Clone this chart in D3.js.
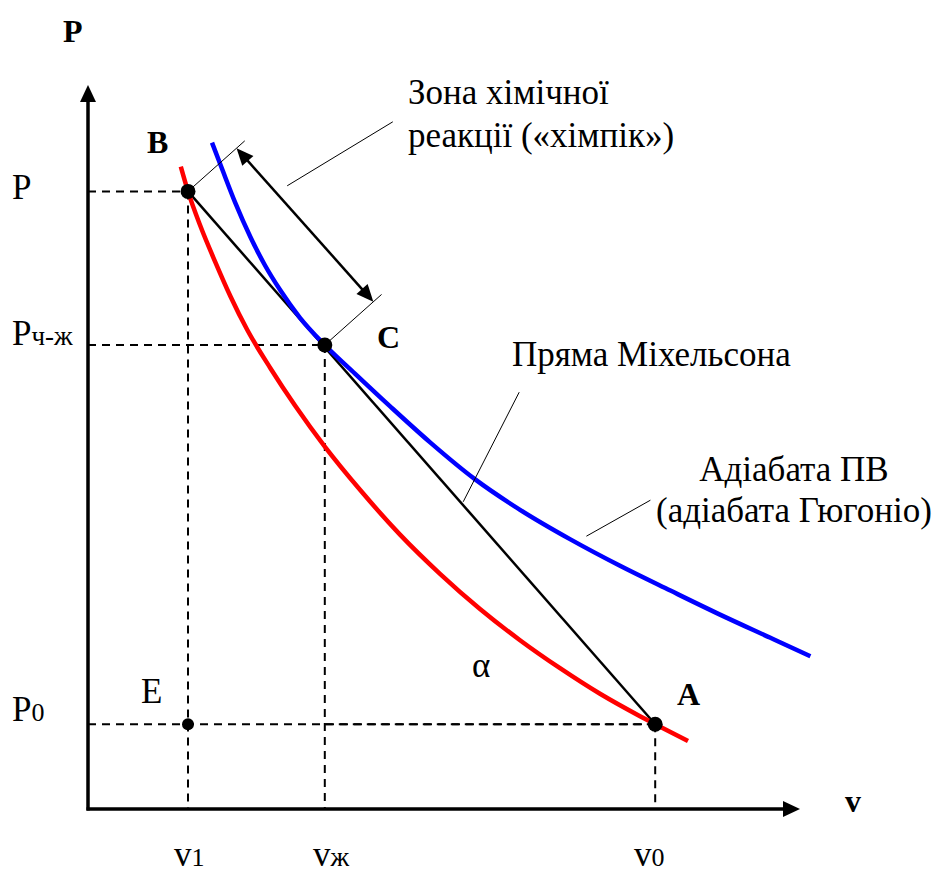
<!DOCTYPE html>
<html>
<head>
<meta charset="utf-8">
<script src="https://cdn.jsdelivr.net/npm/d3@7"></script>
<style>
  body { margin: 0; background: #fff; }
  text { font-family: "Liberation Serif", "Times New Roman", serif; fill: #000; }
</style>
</head>
<body>
<div id="chart"></div>
<script>
//////////////// data (v, P in arbitrary units) ////////////////
// red curve (initial-state adiabat)
const redV = [1.16, 1.25, 1.40, 1.59, 1.78, 1.99, 2.28, 2.59, 2.96, 3.40, 3.90, 4.40, 4.90, 5.40, 5.90, 6.40, 6.90, 7.09, 7.50];
const redP = [8.03, 7.72, 7.30, 6.84, 6.41, 5.99, 5.51, 5.04, 4.53, 3.99, 3.43, 2.94, 2.50, 2.11, 1.76, 1.44, 1.16, 1.06, 0.85];
// blue curve (Hugoniot of detonation products)
const blueV = [1.55, 1.68, 1.84, 2.03, 2.21, 2.40, 2.65, 2.96, 3.34, 3.78, 4.28, 4.84, 5.40, 6.03, 6.65, 7.28, 7.90, 8.53, 9.03];
const blueP = [8.33, 7.99, 7.58, 7.15, 6.80, 6.49, 6.14, 5.80, 5.44, 5.03, 4.58, 4.12, 3.74, 3.37, 3.04, 2.73, 2.43, 2.14, 1.91];
// key points
const pointNames = ["B", "C", "A"];
const pointV = [1.25, 2.96, 7.09];
const pointP = [7.72, 5.80, 1.06];
// point E = (v1, P0)
const eV = 1.25, eP = 1.06;
// leader lines for the notes [v1, P1, v2, P2]
const leaderZone = [2.49, 7.79, 3.81, 8.59];
const leaderMich = [4.69, 3.84, 5.39, 5.21];
const leaderAdia = [6.23, 3.41, 7.03, 3.86];

//////////////// setup ////////////////
const width = 949, height = 874;
let svg = d3.select("#chart")
            .append("svg")
            .attr("width", width)
            .attr("height", height);

const x = d3.scaleLinear().domain([0, 8.9]).range([88, 800]);
const y = d3.scaleLinear().domain([0, 9.05]).range([809, 85]);

// filled arrow head with its tip at (x2,y2)
function arrowHead(x1, y1, x2, y2, len, wid) {
  let dx = x2 - x1, dy = y2 - y1, d = Math.hypot(dx, dy);
  let ux = dx / d, uy = dy / d;
  let bx = x2 - ux * len, by = y2 - uy * len;
  return `M${x2},${y2}L${bx - uy * wid / 2},${by + ux * wid / 2}L${bx + uy * wid / 2},${by - ux * wid / 2}Z`;
}

//////////////// dashed guides ////////////////
let guides = svg.append("g")
                .attr("stroke", "#000")
                .attr("stroke-width", 2)
                .attr("stroke-dasharray", "8,6");
pointNames.forEach(function(n, i) {
  guides.append("line")
        .attr("x1", x(0)).attr("y1", y(pointP[i]))
        .attr("x2", x(pointV[i])).attr("y2", y(pointP[i]));
  guides.append("line")
        .attr("x1", x(pointV[i])).attr("y1", y(pointP[i]))
        .attr("x2", x(pointV[i])).attr("y2", y(0));
});
guides.append("line")
      .attr("x1", x(pointV[1])).attr("y1", y(eP))
      .attr("x2", x(pointV[2])).attr("y2", y(eP));

//////////////// axes ////////////////
svg.append("line")
   .attr("x1", x(0)).attr("y1", y(0) + 1.5)
   .attr("x2", x(0)).attr("y2", y(9.05) + 14)
   .attr("stroke", "#000").attr("stroke-width", 3.5);
svg.append("path")
   .attr("d", arrowHead(x(0), y(0), x(0), y(9.05), 17, 16));
svg.append("line")
   .attr("x1", x(0) - 1.5).attr("y1", y(0))
   .attr("x2", x(8.9) - 14).attr("y2", y(0))
   .attr("stroke", "#000").attr("stroke-width", 3.5);
svg.append("path")
   .attr("d", arrowHead(x(0), y(0), x(8.9), y(0), 17, 16));

//////////////// Michelson line B-A ////////////////
svg.append("line")
   .attr("x1", x(pointV[0])).attr("y1", y(pointP[0]))
   .attr("x2", x(pointV[2])).attr("y2", y(pointP[2]))
   .attr("stroke", "#000").attr("stroke-width", 2.5);

//////////////// curves ////////////////
let line = d3.line()
             .x(function(d) { return x(d[0]); })
             .y(function(d) { return y(d[1]); })
             .curve(d3.curveMonotoneX);

svg.append("path")
   .datum(d3.zip(redV, redP))
   .attr("d", line)
   .attr("fill", "none")
   .attr("stroke", "#ff0000")
   .attr("stroke-width", 4.5);
svg.append("path")
   .datum(d3.zip(blueV, blueP))
   .attr("d", line)
   .attr("fill", "none")
   .attr("stroke", "#0000ff")
   .attr("stroke-width", 4.5);

//////////////// reaction zone (double arrow B..C offset) ////////////////
let bx = x(pointV[0]), by = y(pointP[0]), cx = x(pointV[1]), cy = y(pointP[1]);
let dl = Math.hypot(cx - bx, cy - by);
let nx = (cy - by) / dl, ny = -(cx - bx) / dl;   // unit normal (up-right side)
let off = 65, ext = 76;
svg.append("line")
   .attr("x1", bx).attr("y1", by).attr("x2", bx + nx * ext).attr("y2", by + ny * ext)
   .attr("stroke", "#000").attr("stroke-width", 1);
svg.append("line")
   .attr("x1", cx).attr("y1", cy).attr("x2", cx + nx * ext).attr("y2", cy + ny * ext)
   .attr("stroke", "#000").attr("stroke-width", 1);
let a1x = bx + nx * off, a1y = by + ny * off, a2x = cx + nx * off, a2y = cy + ny * off;
let ux = (a2x - a1x) / dl, uy = (a2y - a1y) / dl;
svg.append("line")
   .attr("x1", a1x + ux * 14).attr("y1", a1y + uy * 14)
   .attr("x2", a2x - ux * 14).attr("y2", a2y - uy * 14)
   .attr("stroke", "#000").attr("stroke-width", 2.5);
svg.append("path").attr("d", arrowHead(a2x, a2y, a1x, a1y, 17, 15));
svg.append("path").attr("d", arrowHead(a1x, a1y, a2x, a2y, 17, 15));

//////////////// leader lines ////////////////
[leaderZone, leaderMich, leaderAdia].forEach(function(l) {
  svg.append("line")
     .attr("x1", x(l[0])).attr("y1", y(l[1]))
     .attr("x2", x(l[2])).attr("y2", y(l[3]))
     .attr("stroke", "#000").attr("stroke-width", 1);
});

//////////////// dots ////////////////
svg.selectAll("circle.pt")
   .data(pointNames)
   .enter()
   .append("circle")
   .attr("class", "pt")
   .attr("cx", function(d, i) { return x(pointV[i]); })
   .attr("cy", function(d, i) { return y(pointP[i]); })
   .attr("r", 7.5);
svg.append("circle")
   .attr("cx", x(eV)).attr("cy", y(eP))
   .attr("r", 6);

//////////////// labels ////////////////
function label(px, py, main, sub, opts) {
  opts = opts || {};
  let t = svg.append("text")
             .attr("x", px).attr("y", py)
             .style("font-size", (opts.size || 35) + "px")
             .style("font-weight", opts.bold ? "bold" : "normal")
             .style("text-anchor", opts.anchor || "start");
  t.append("tspan").text(main);
  if (sub) t.append("tspan").style("font-size", (opts.subSize || 26) + "px").text(sub);
  return t;
}

// axis names
label(63, 42, "P", null, { bold: true, size: 32 });
label(845, 812, "v", null, { bold: true, size: 32 });
// points
label(147, 153, "B", null, { bold: true, size: 32 });
label(377, 348, "C", null, { bold: true, size: 32 });
label(677, 705, "A", null, { bold: true, size: 32 });
label(141, 703, "E");
label(472, 677, "α");
// pressure labels
label(12, 199, "P");
label(12, 345, "P", "ч-ж", { subSize: 27 });
label(12, 721, "P", "0");
// volume labels
label(174, 866, "v", "1");
label(313, 866, "v", "ж", { subSize: 27 });
label(634, 866, "v", "0");
// notes
label(408, 104, "Зона хімічної");
label(408, 147, "реакції («хімпік»)");
label(512, 366, "Пряма Міхельсона");
label(794, 481, "Адіабата ПВ", null, { anchor: "middle" });
label(794, 522, "(адіабата Гюгоніо)", null, { anchor: "middle" });
</script>
</body>
</html>
